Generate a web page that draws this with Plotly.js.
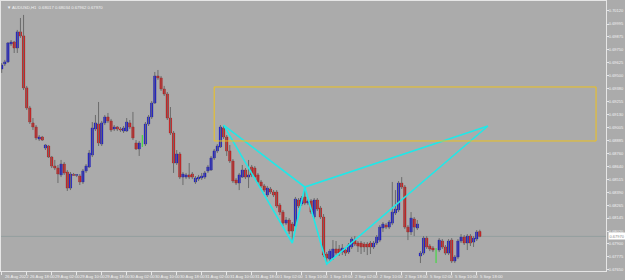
<!DOCTYPE html>
<html><head><meta charset="utf-8">
<script src="https://cdn.plot.ly/plotly-3.0.1.min.js"></script>
<style>html,body{margin:0;padding:0;background:#ababab;}#chart{width:625px;height:280px;}</style>
</head><body><div id="chart"></div>
<script>
const symbol = "AUDUSD,H1";
const openP = [0.69567,0.69614,0.69634,0.69805,0.69824,0.69767,0.69920,0.69882,0.69386,0.69195,
0.69052,0.69013,0.68899,0.68918,0.68813,0.68832,0.68727,0.68641,0.68622,0.68556,
0.68660,0.68584,0.68431,0.68560,0.68552,0.68546,0.68489,0.68594,0.68632,0.68746,
0.68994,0.69042,0.68851,0.69052,0.69109,0.69071,0.68994,0.69013,0.68994,0.68975,
0.68975,0.69052,0.69013,0.68861,0.68804,0.68880,0.68851,0.69042,0.69109,0.69242,
0.69500,0.69481,0.69376,0.69328,0.69099,0.68956,0.68670,0.68756,0.68536,0.68536,
0.68556,0.68565,0.68489,0.68517,0.68527,0.68536,0.68594,0.68603,0.68718,0.68785,
0.68823,0.69004,0.68918,0.68785,0.68689,0.68508,0.68479,0.68536,0.68603,0.68536,
0.68632,0.68622,0.68556,0.68489,0.68451,0.68365,0.68422,0.68393,0.68393,0.68269,
0.68202,0.68097,0.68126,0.68088,0.68069,0.68317,0.68279,0.68346,0.68288,0.68308,
0.68155,0.68317,0.68241,0.68155,0.67802,0.67754,0.67764,0.67850,0.67850,0.67821,
0.67840,0.67821,0.67869,0.67935,0.67907,0.67907,0.67897,0.67897,0.67907,0.67869,
0.67907,0.67935,0.68050,0.68078,0.68059,0.68097,0.68193,0.68222,0.68479,0.68441,
0.68059,0.68012,0.68136,0.68050,0.67783,0.67811,0.67954,0.67878,0.67859,0.67850,
0.67840,0.67926,0.67869,0.67811,0.67935,0.67735,0.67773,0.67926,0.67964,0.67907,
0.67973,0.67916,0.67945,0.68017];
const highP = [0.69624,0.69653,0.69824,0.69843,0.69834,0.69939,0.70053,0.70082,0.69405,0.69214,
0.69099,0.69032,0.68937,0.68928,0.68851,0.68842,0.68737,0.68699,0.68651,0.68699,
0.68679,0.68603,0.68584,0.68575,0.68565,0.68565,0.68613,0.68660,0.68794,0.69061,
0.69128,0.69252,0.69071,0.69128,0.69147,0.69090,0.69032,0.69023,0.69013,0.69023,
0.69099,0.69080,0.69157,0.68889,0.68880,0.68937,0.69061,0.69128,0.69261,0.69538,
0.69557,0.69500,0.69405,0.69347,0.69204,0.68975,0.68794,0.68775,0.68584,0.68575,
0.68670,0.68584,0.68546,0.68556,0.68575,0.68594,0.68651,0.68737,0.68804,0.68851,
0.69032,0.69023,0.68937,0.68842,0.68708,0.68527,0.68575,0.68651,0.68622,0.68699,
0.68651,0.68641,0.68575,0.68508,0.68470,0.68451,0.68441,0.68412,0.68412,0.68288,
0.68222,0.68155,0.68145,0.68107,0.68346,0.68336,0.68355,0.68441,0.68327,0.68327,
0.68336,0.68336,0.68260,0.68183,0.67821,0.67850,0.67935,0.67926,0.67888,0.67897,
0.67869,0.67907,0.67964,0.67973,0.67926,0.67926,0.67916,0.67916,0.67926,0.67926,
0.67983,0.68078,0.68107,0.68097,0.68126,0.68489,0.68412,0.68498,0.68536,0.68460,
0.68078,0.68202,0.68155,0.68126,0.67830,0.67973,0.67973,0.67897,0.67878,0.67859,
0.67954,0.67945,0.67888,0.67945,0.67954,0.67792,0.67945,0.67992,0.67983,0.67992,
0.67992,0.67973,0.68031,0.68034];
const lowP = [0.69529,0.69595,0.69624,0.69786,0.69719,0.69719,0.69863,0.69366,0.69176,0.69042,
0.68985,0.68889,0.68880,0.68880,0.68794,0.68718,0.68622,0.68603,0.68479,0.68536,
0.68556,0.68403,0.68412,0.68546,0.68536,0.68460,0.68470,0.68575,0.68622,0.68727,
0.68975,0.68832,0.68832,0.69032,0.69052,0.68966,0.68975,0.68975,0.68966,0.68956,
0.68966,0.68994,0.68889,0.68794,0.68737,0.68823,0.68832,0.69023,0.69090,0.69233,
0.69462,0.69357,0.69309,0.69080,0.68937,0.68575,0.68651,0.68517,0.68460,0.68517,
0.68517,0.68517,0.68470,0.68498,0.68508,0.68517,0.68575,0.68594,0.68699,0.68765,
0.68813,0.68899,0.68737,0.68670,0.68479,0.68460,0.68412,0.68527,0.68517,0.68431,
0.68536,0.68517,0.68470,0.68431,0.68393,0.68346,0.68374,0.68346,0.68241,0.68174,
0.68069,0.68078,0.67992,0.67916,0.68040,0.68241,0.68260,0.68269,0.68269,0.68183,
0.68136,0.68212,0.68136,0.67773,0.67706,0.67726,0.67745,0.67792,0.67783,0.67792,
0.67783,0.67802,0.67850,0.67878,0.67821,0.67802,0.67821,0.67792,0.67802,0.67850,
0.67888,0.67916,0.68012,0.68040,0.68040,0.68078,0.68174,0.68202,0.68422,0.68040,
0.67935,0.67983,0.67973,0.68031,0.67716,0.67792,0.67850,0.67830,0.67821,0.67716,
0.67821,0.67850,0.67792,0.67792,0.67716,0.67716,0.67754,0.67907,0.67888,0.67840,
0.67878,0.67869,0.67926,0.67962];
const closeP = [0.69605,0.69634,0.69815,0.69824,0.69767,0.69920,0.69882,0.69386,0.69195,0.69061,
0.69013,0.68909,0.68918,0.68889,0.68842,0.68727,0.68641,0.68622,0.68565,0.68660,
0.68575,0.68431,0.68565,0.68552,0.68560,0.68489,0.68594,0.68641,0.68765,0.69004,
0.69052,0.68861,0.69052,0.69109,0.69071,0.68985,0.69013,0.68994,0.68985,0.69004,
0.69061,0.69013,0.68909,0.68804,0.68861,0.68880,0.69042,0.69109,0.69242,0.69500,
0.69481,0.69376,0.69328,0.69099,0.68956,0.68670,0.68756,0.68536,0.68565,0.68556,
0.68536,0.68536,0.68527,0.68536,0.68546,0.68575,0.68632,0.68718,0.68785,0.68832,
0.69013,0.68918,0.68785,0.68689,0.68498,0.68479,0.68556,0.68603,0.68536,0.68556,
0.68556,0.68536,0.68489,0.68451,0.68412,0.68431,0.68393,0.68365,0.68260,0.68202,
0.68097,0.68126,0.68021,0.68021,0.68327,0.68260,0.68336,0.68288,0.68308,0.68202,
0.68317,0.68231,0.68155,0.67792,0.67764,0.67830,0.67850,0.67811,0.67811,0.67859,
0.67811,0.67888,0.67945,0.67897,0.67878,0.67869,0.67869,0.67869,0.67869,0.67907,
0.67964,0.68059,0.68088,0.68059,0.68107,0.68202,0.68231,0.68479,0.68441,0.68059,
0.68012,0.68145,0.68059,0.68088,0.67811,0.67954,0.67869,0.67850,0.67840,0.67850,
0.67935,0.67869,0.67811,0.67926,0.67735,0.67773,0.67926,0.67964,0.67907,0.67973,
0.67907,0.67954,0.68012,0.67970];
const timeTickBars = [0,8,16,24,32,40,48,56,64,72,80,88,96,104,112,120,128,136,144,152];
const timeTickLabels = ["26 Aug 2022","26 Aug 18:00","29 Aug 02:00","29 Aug 10:00","29 Aug 18:00",
"30 Aug 02:00","30 Aug 10:00","30 Aug 18:00","31 Aug 02:00","31 Aug 10:00","31 Aug 18:00",
"1 Sep 02:00","1 Sep 10:00","1 Sep 18:00","2 Sep 02:00","2 Sep 10:00","2 Sep 18:00",
"5 Sep 02:00","5 Sep 10:00","5 Sep 18:00"];
const priceTicks = [0.70120,0.69995,0.69875,0.69750,0.69625,0.69500,0.69380,0.69255,0.69130,0.69005,
0.68885,0.68760,0.68640,0.68515,0.68390,0.68265,0.68145,0.68020,0.67900,0.67775,0.67650];
// harmonic pattern points X, A, B, C, D
const patternBar = [71, 93, 97, 104, 155.6];
const patternPrice = [0.69032, 0.67907, 0.68441, 0.67706, 0.69023];
const patternPath = [0, 1, 2, 3, 4, 2, 0];
// zone rectangle
const zoneBar = [68, 190.2];
const zonePrice = [0.69395, 0.68880];
const lastPrice = 0.67970;

const idx = openP.map((_, i) => i);
const wx = [], wy = [], dx = [], dy = [];
idx.forEach(i => {
  if (openP[i] === closeP[i]) { dx.push(i, i, null); dy.push(lowP[i], highP[i], null); }
  else { wx.push(i, i, null); wy.push(lowP[i], highP[i], null); }
});
function bodies(filter, color, edge) {
  const sel = idx.filter(filter);
  return {
    type: 'bar', x: sel, base: sel.map(i => Math.min(openP[i], closeP[i])),
    y: sel.map(i => Math.abs(closeP[i] - openP[i])), width: 0.72,
    marker: {color: color, line: {color: edge, width: 0.4}}, hoverinfo: 'skip', showlegend: false
  };
}
const traces = [
  {type: 'scatter', mode: 'lines', x: wx, y: wy, line: {color: '#6c6c6c', width: 1}, hoverinfo: 'skip', showlegend: false},
  {type: 'scatter', mode: 'lines', x: dx, y: dy, line: {color: '#32e032', width: 1}, hoverinfo: 'skip', showlegend: false},
  bodies(i => closeP[i] > openP[i], '#0000ff', '#000090'),
  bodies(i => closeP[i] < openP[i], '#ff0000', '#900000'),
  {type: 'scatter', mode: 'lines', x: patternPath.map(k => patternBar[k]), y: patternPath.map(k => patternPrice[k]),
   line: {color: '#20e8e8', width: 1.6}, hoverinfo: 'skip', showlegend: false}
];
const fontTxt = {family: 'Liberation Sans', size: 4.2, color: '#f2f2f2'};
const last = openP.length - 1;
const timeLabelAnn = timeTickBars.map((b, k) => ({
  xref: 'x', yref: 'paper', x: b, y: 0, xanchor: 'left', yanchor: 'top', xshift: 1, yshift: -1,
  showarrow: false, text: timeTickLabels[k], font: fontTxt
}));
const layout = {
  width: 625, height: 280,
  margin: {l: 1, r: 19, t: 1, b: 9},
  paper_bgcolor: '#ababab', plot_bgcolor: '#ababab',
  barmode: 'overlay', showlegend: false,
  xaxis: {
    range: [-0.22, 193.38], showgrid: false, zeroline: false,
    showline: true, linecolor: '#e6e6e6', linewidth: 1, mirror: true,
    ticks: 'outside', ticklen: 3, tickcolor: '#e6e6e6', tickwidth: 1,
    tickvals: timeTickBars, showticklabels: false, fixedrange: true
  },
  yaxis: {
    side: 'right', range: [0.67640, 0.70215], showgrid: false, zeroline: false,
    showline: true, linecolor: '#e6e6e6', linewidth: 1, mirror: true,
    ticks: 'outside', ticklen: 2, tickcolor: '#e6e6e6',
    tickvals: priceTicks, ticktext: priceTicks.map(v => v.toFixed(5)),
    ticklabelstandoff: -1,
    tickfont: {family: 'Liberation Sans', size: 4, color: '#f2f2f2'}, fixedrange: true
  },
  shapes: [
    {type: 'rect', xref: 'x', yref: 'y', x0: zoneBar[0], x1: zoneBar[1], y0: zonePrice[0], y1: zonePrice[1],
     line: {color: '#eec21e', width: 1}, fillcolor: 'rgba(0,0,0,0)'},
    {type: 'line', xref: 'paper', yref: 'y', x0: 0, x1: 1, y0: lastPrice, y1: lastPrice,
     line: {color: '#949f9f', width: 1}, layer: 'below'}
  ],
  annotations: [
    {xref: 'paper', yref: 'paper', x: 0.006, y: 1, xanchor: 'left', yanchor: 'top', yshift: -2, showarrow: false,
     text: '\u25BC ' + symbol + '  ' + [openP[last], highP[last], lowP[last], closeP[last]].map(v => v.toFixed(5)).join(' '),
     font: fontTxt},
    {xref: 'paper', yref: 'y', x: 1, y: lastPrice, xanchor: 'left', yanchor: 'middle', xshift: 2, showarrow: false,
     text: lastPrice.toFixed(5), bgcolor: '#ffffff', borderpad: 0.5,
     font: {family: 'Liberation Sans', size: 4, color: '#8a8a8a'}}
  ].concat(timeLabelAnn)
};
Plotly.newPlot('chart', traces, layout, {staticPlot: true, displayModeBar: false});
</script></body></html>
